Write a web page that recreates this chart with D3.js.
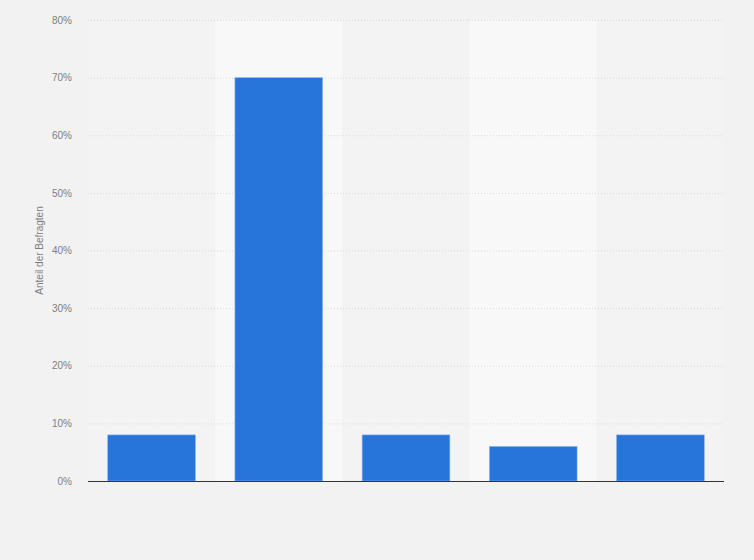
<!DOCTYPE html>
<html>
<head>
<meta charset="utf-8">
<script src="https://cdn.jsdelivr.net/npm/d3@7"></script>
<style>
  body { margin: 0; background: #f2f2f2; }
  svg { display: block; font-family: "Liberation Sans", Arial, sans-serif; }
</style>
</head>
<body>
<svg id="chart" width="754" height="560"></svg>
<script>
// category keys (the reference shows no x labels)
var categories = ["k1", "k2", "k3", "k4", "k5"];
var values = [8, 70, 8, 6, 8];
var yTicks = [0, 10, 20, 30, 40, 50, 60, 70, 80];
var yTitle = "Anteil der Befragten";

var W = 754, H = 560;
var m = {top: 20, right: 30, bottom: 79, left: 88};
var w = W - m.left - m.right, h = H - m.top - m.bottom;

var svg = d3.select("#chart");
svg.append("rect").attr("width", W).attr("height", H).attr("fill", "#f2f2f2");

var g = svg.append("g").attr("transform", "translate(" + m.left + "," + m.top + ")");

var x = d3.scaleBand().domain(categories).range([0, w]).paddingInner(0.31).paddingOuter(0.155);
var y = d3.scaleLinear().domain([0, 80]).range([h, 0]);

// alternating column bands
var step = x.step();
g.selectAll(".band").data(categories).enter().append("rect")
	.attr("class", "band")
	.attr("x", function(d) { return x(d) - x.paddingOuter() * step; })
	.attr("y", 0)
	.attr("width", step)
	.attr("height", h)
	.attr("fill", function(d, i) { return i % 2 ? "#f8f8f8" : "#f3f3f3"; });

// grid
var grid = g.append("g").call(d3.axisLeft(y).tickValues(yTicks).tickSize(-w).tickFormat(""));
grid.select(".domain").remove();
grid.selectAll("line").attr("stroke", "#d9d9d9").attr("stroke-dasharray", "1,2");

// y labels
var ya = g.append("g").call(d3.axisLeft(y).tickValues(yTicks).tickSize(0).tickPadding(16)
	.tickFormat(function(d) { return d + "%"; }));
ya.select(".domain").remove();
ya.selectAll("text").attr("fill", "#808080").style("font-size", "10px");

// bars
g.selectAll(".bar").data(values).enter().append("rect")
	.attr("class", "bar")
	.attr("x", function(d, i) { return x(categories[i]); })
	.attr("y", function(d) { return y(d); })
	.attr("width", x.bandwidth())
	.attr("height", function(d) { return h - y(d); })
	.attr("fill", "#2775db")
	.attr("stroke", "#8fb6ee")
	.attr("stroke-width", 0.6);

// baseline
g.append("line").attr("x1", 0).attr("x2", w).attr("y1", h + 0.5).attr("y2", h + 0.5)
	.attr("stroke", "#333").attr("stroke-width", 1.2);

// y title
svg.append("text")
	.attr("transform", "translate(43," + (m.top + h / 2) + ")rotate(-90)")
	.attr("text-anchor", "middle")
	.attr("fill", "#808080")
	.style("font-size", "10px")
	.text(yTitle);
</script>
</body>
</html>
